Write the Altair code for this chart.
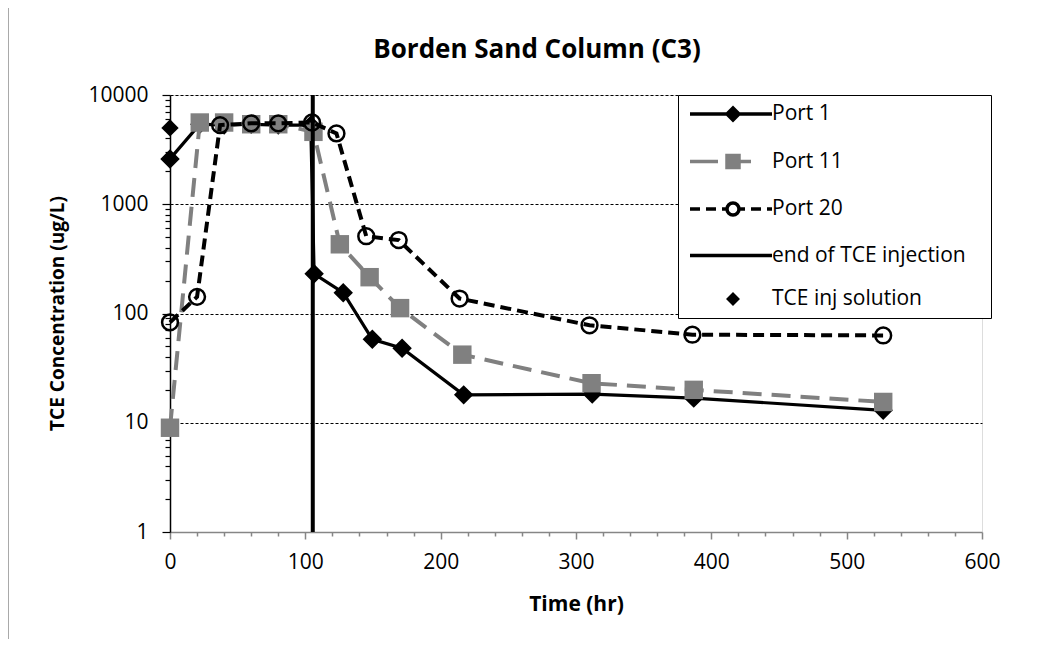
import altair as alt
import pandas as pd

# ---------------- data ----------------
port1_t = [0, 22, 40, 60, 80, 104, 106.5, 128, 149.5, 171.5, 217, 312, 387, 527]
port1_c = [2600, 5400, 5300, 5400, 5300, 5300, 231, 155, 58, 48, 18, 18.3, 16.8, 13]

port11_t = [0, 22, 40, 60, 80, 106, 125.5, 147.5, 170, 216, 311.5, 387, 527]
port11_c = [9, 5600, 5600, 5400, 5400, 4600, 430, 215, 112, 42, 23, 20, 15.5]

port20_t = [0, 20, 37, 60, 80, 105, 123, 145, 169, 214, 310, 386, 527]
port20_c = [83, 142, 5300, 5500, 5500, 5600, 4450, 510, 470, 137, 78, 64, 63]

end_injection_t = [105.5]
inj_solution_t = [0]
inj_solution_c = [5000]

legend_names = ["Port 1", "Port 11", "Port 20", "end of TCE injection", "TCE inj solution"]

x_ticks = list(range(0, 601, 20))
y_ticks = [m * 10 ** k for k in range(4) for m in range(1, 10)] + [10000]

FONT = "Open Sans"
GRAY = "#808080"

# ---------------- scales / axes ----------------
xscale = alt.Scale(domain=[0, 600], nice=False, zero=False)
yscale = alt.Scale(type="log", domain=[1, 10000], nice=False)

xaxis = alt.Axis(
    title="Time (hr)", values=x_ticks,
    labelExpr="datum.value % 100 == 0 ? datum.value : ''",
    grid=False, domainColor="#868686", domainWidth=1.5, tickColor="#868686", tickWidth=1.5,
    tickSize={"condition": {"test": "datum.value % 100 == 0", "value": 7}, "value": 4},
    labelFont=FONT, labelFontSize=21, labelColor="black", labelPadding=12,
    labelOverlap=False, labelFlush=False, labelBound=False,
    titleFont=FONT, titleFontSize=21, titleFontWeight="bold", titleColor="black",
    titleX=406, titleY=72, titleBaseline="middle", titleAnchor="middle",
)
major_y = "(datum.value==1||datum.value==10||datum.value==100||datum.value==1000||datum.value==10000)"
yaxis = alt.Axis(
    title="TCE Concentration (ug/L)", values=y_ticks,
    labelExpr=major_y + " ? datum.value : ''",
    grid=True, gridColor="black", gridDash=[3, 2], gridWidth=1,
    gridOpacity={"condition": {"test": "datum.value > 1 && " + major_y, "value": 1}, "value": 0},
    domainColor="black", domainWidth=1.5, tickColor="black", tickWidth=1.2,
    tickSize={"condition": {"test": major_y, "value": 8}, "value": 5},
    labelFont=FONT, labelFontSize=21, labelColor="black", labelPadding=14,
    labelOverlap=False, labelFlush=False, labelBound=False,
    titleFont=FONT, titleFontSize=19, titleFontWeight="bold", titleColor="black",
    titleX=-113, titleY=218, titleBaseline="middle", titleAnchor="middle", titleAngle=270,
)

X = alt.X("t:Q", scale=xscale, axis=xaxis)
Y = alt.Y("c:Q", scale=yscale, axis=yaxis)

def df(t, c):
    return pd.DataFrame({"t": t, "c": c})

layers = []

# Port 1
d1 = df(port1_t, port1_c)
layers.append(alt.Chart(d1).mark_line(color="black", strokeWidth=3.2).encode(x=X, y=Y))
layers.append(alt.Chart(d1).mark_point(shape="diamond", filled=True, size=300, color="black",
                                       stroke="black", strokeWidth=1.5, opacity=1).encode(x=X, y=Y))
# Port 11
d11 = df(port11_t, port11_c)
layers.append(alt.Chart(d11).mark_line(color=GRAY, strokeWidth=4, strokeDash=[19, 10]).encode(x=X, y=Y))
layers.append(alt.Chart(d11).mark_point(shape="square", filled=True, size=340, color=GRAY,
                                        opacity=1).encode(x=X, y=Y))
# Port 20
d20 = df(port20_t, port20_c)
layers.append(alt.Chart(d20).mark_line(color="black", strokeWidth=4, strokeDash=[11, 6]).encode(x=X, y=Y))
layers.append(alt.Chart(d20).mark_point(shape="circle", filled=False, size=250, color="black",
                                        strokeWidth=2.5, opacity=1).encode(x=X, y=Y))
# end of injection
layers.append(alt.Chart(pd.DataFrame({"t": end_injection_t})).mark_rule(color="black", strokeWidth=4)
              .encode(x=alt.X("t:Q", scale=xscale, axis=xaxis)))
# injection solution
layers.append(alt.Chart(df(inj_solution_t, inj_solution_c)).mark_point(
    shape="diamond", filled=True, size=300, color="black", strokeWidth=1.5, opacity=1).encode(x=X, y=Y))

# ---------------- legend (built by the library from a hidden layer) ----------------
line_full = "M-0.7,0H7.5"
paths = [
    line_full + "M3.6,-0.6L4.2,0L3.6,0.6L3.0,0Z",
    "M-0.7,0H2.1M4.2,0H5.4M3.0,-0.6H4.2V0.6H3.0Z",
    "M-0.7,0H0.3M0.9,0H1.9M2.5,0H3.0M4.2,0H4.8M5.4,0H6.4M7.0,0H7.5"
    "M4.2,0A0.6,0.6 0 1,1 3.0,0A0.6,0.6 0 1,1 4.2,0Z",
    line_full,
    "M3.6,-0.45L4.05,0L3.6,0.45L3.15,0Z",
]
leg = alt.Legend(
    title=" ", titleOrient="right", titlePadding=18, titleFontSize=21,
    orient="none", legendX=508, legendY=0,
    strokeColor="black", fillColor="white", padding=7,
    symbolSize=400, symbolStrokeWidth=3.5, symbolOpacity=1,
    labelFont=FONT, labelFontSize=21, labelColor="black", labelOffset=63,
    rowPadding=21.5, labelLimit=400,
)
legdf = pd.DataFrame({"series": legend_names, "t": [0] * 5, "c": [1] * 5})
legend_layer = alt.Chart(legdf).mark_point(filled=True, opacity=0).encode(
    x=X, y=Y,
    shape=alt.Shape("series:N", scale=alt.Scale(domain=legend_names, range=paths), legend=leg),
    stroke=alt.Stroke("series:N", scale=alt.Scale(domain=legend_names,
                      range=["black", GRAY, "black", "black", "black"]), legend=leg),
    fill=alt.Fill("series:N", scale=alt.Scale(domain=legend_names,
                  range=["black", GRAY, "transparent", "black", "black"]), legend=leg),
)
layers.append(legend_layer)

# ---------------- outer frame (decoration) ----------------
frame = pd.DataFrame({"k": [0]})
layers.append(alt.Chart(frame).mark_rule(color="#8c8c8c", strokeWidth=1.5).encode(
    x=alt.value(-162), y=alt.value(-88), y2=alt.value(560)))
layers.append(alt.Chart(frame).mark_rule(color="#8c8c8c", strokeWidth=1.5).encode(
    x=alt.value(-162), x2=alt.value(900), y=alt.value(-88)))

chart = alt.layer(*layers).properties(
    width=812, height=437,
    autosize=alt.AutoSizeParams(type="none"),
    padding={"left": 162, "top": 87, "right": 64, "bottom": 107},
    title=alt.TitleParams("Borden Sand Column (C3)", font=FONT, fontSize=26, fontWeight="bold",
                          color="black", anchor="middle", frame="group", dx=-39, offset=-78,
                          baseline="alphabetic"),
).configure_view(stroke=None).configure_legend(strokeWidth=1.5).configure(background="white")

chart.save("out.html", embed_options={"renderer": "svg", "actions": False})
